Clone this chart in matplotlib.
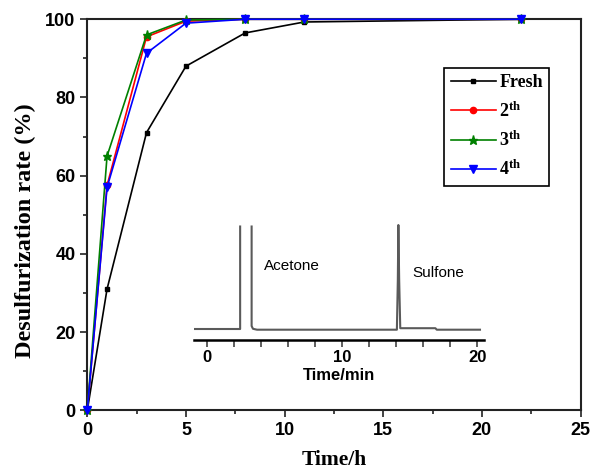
import numpy as np
import matplotlib
matplotlib.use("Agg")
import matplotlib.pyplot as plt
from matplotlib.ticker import MultipleLocator

# ---- data ----
time_h = [0, 1, 3, 5, 8, 11, 22]
fresh = [0, 31, 71, 88, 96.5, 99.3, 100]
run2 = [0, 57.5, 95.5, 99.5, 100, 100, 100]
run3 = [0, 65, 96, 99.8, 100, 100, 100]
run4 = [0, 57, 91.3, 99, 100, 100, 100]
labels = ["Fresh", r"2$^{\mathbf{th}}$", r"3$^{\mathbf{th}}$", r"4$^{\mathbf{th}}$"]

# chromatogram (inset)
gc_time = [-0.95, 2.45, 2.45, np.nan, 3.3, 3.3, 3.4, 3.7, 14.05, 14.12, 14.16, 14.22, 14.3, 16.9, 17.0, 20.2]
gc_signal = [1.0, 1.0, 103.5, np.nan, 103.5, 4.0, 1.2, 0.3, 0.3, 50, 105, 50, 1.8, 1.8, 0.3, 0.3]

plt.rcParams['mathtext.fontset'] = 'custom'
plt.rcParams['mathtext.bf'] = 'Liberation Serif:bold'
plt.rcParams['mathtext.rm'] = 'Liberation Serif:bold'
plt.rcParams['mathtext.it'] = 'Liberation Serif:bold'

fig = plt.figure(figsize=(5.9, 4.74), dpi=100)
ax = fig.add_axes([0.148, 0.1344, 0.836, 0.825])

series = [fresh, run2, run3, run4]
colors = ['black', '#ff0000', '#008000', '#0000ff']
markers = ['s', 'o', '*', 'v']
msizes = [3, 4.5, 6.5, 5.5]
for ys, c, m, ms, lab in zip(series, colors, markers, msizes, labels):
    ax.plot(time_h, ys, color=c, marker=m, ms=ms, lw=1.2, label=lab, clip_on=False, zorder=3)

ax.set_xlim(0, 25)
ax.set_ylim(0, 100)
ax.xaxis.set_major_locator(MultipleLocator(5))
ax.xaxis.set_minor_locator(MultipleLocator(2.5))
ax.yaxis.set_major_locator(MultipleLocator(20))
ax.yaxis.set_minor_locator(MultipleLocator(10))
ax.tick_params(which='both', direction='out', top=False, right=False, width=1.2, color='#222222')
ax.tick_params(which='major', length=5, labelsize=13)
ax.tick_params(which='minor', length=3)
for lab in ax.get_xticklabels() + ax.get_yticklabels():
    lab.set_family('Liberation Sans')
    lab.set_fontweight('bold')
for sp in ax.spines.values():
    sp.set_linewidth(1.5)
    sp.set_color('#222222')

ax.set_xlabel('Time/h', family='Liberation Serif', fontweight='bold', fontsize=15.5, labelpad=8)
ax.set_ylabel('Desulfurization rate (%)', family='Liberation Serif', fontweight='bold', fontsize=17.5)
ax.yaxis.set_label_coords(-0.103, 0.46)

leg = ax.legend(loc='upper left', bbox_to_anchor=(0.724, 0.875), borderaxespad=0,
                frameon=True, fancybox=False, edgecolor='black', framealpha=1,
                prop={'family': 'Liberation Serif', 'weight': 'bold', 'size': 13},
                handlelength=2.5, handletextpad=0.2, labelspacing=0.55, borderpad=0.35)
leg.get_frame().set_linewidth(1.2)

# ---- inset ----
ins = fig.add_axes([0.328, 0.2827, 0.4924, 0.2447])
ins.patch.set_alpha(0)
ins.plot(gc_time, gc_signal, color='#5a5a5a', lw=1.5)
ins.set_xlim(-1, 20.5)
ins.set_ylim(-10, 106)
for s in ['top', 'right', 'left']:
    ins.spines[s].set_visible(False)
ins.spines['bottom'].set_linewidth(1.8)
ins.set_yticks([])
ins.xaxis.set_major_locator(MultipleLocator(10))
ins.xaxis.set_minor_locator(MultipleLocator(2))
ins.tick_params(which='both', direction='out', width=1.1, color='#333333')
ins.tick_params(which='major', length=5, labelsize=12, pad=2)
ins.tick_params(which='minor', length=5)
for lab in ins.get_xticklabels():
    lab.set_family('Liberation Sans')
    lab.set_fontweight('bold')
ins.set_xlabel('Time/min', family='Liberation Sans', fontweight='bold', fontsize=12, labelpad=2)
ins.text(6.3, 64, 'Acetone', family='Liberation Sans', fontsize=11, ha='center', va='center')
ins.text(17.1, 57, 'Sulfone', family='Liberation Sans', fontsize=11, ha='center', va='center')

fig.savefig('out.png', dpi=100)
